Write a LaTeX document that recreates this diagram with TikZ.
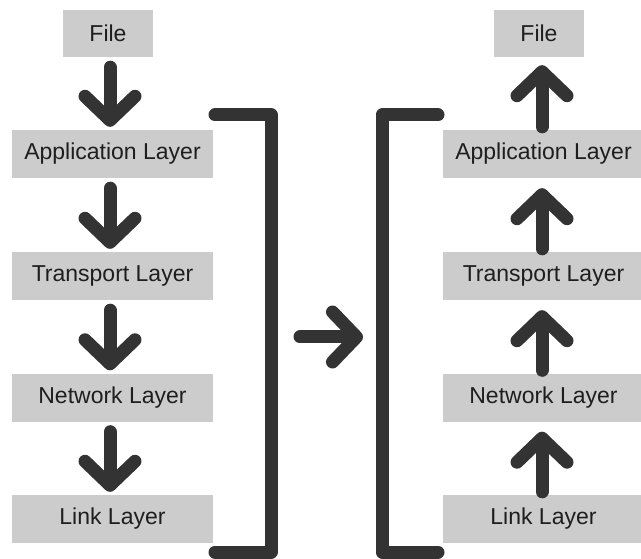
\documentclass[tikz,border=0pt]{standalone}
\usepackage{fontspec}
\setmainfont{Liberation Sans}
\usetikzlibrary{arrows.meta,calc}
\definecolor{boxgray}{RGB}{204,204,204}
\definecolor{ink}{RGB}{51,51,51}
\definecolor{txt}{RGB}{30,30,30}
\begin{document}
\begin{tikzpicture}[x=1pt,y=-1pt,
  layerbox/.style={fill=boxgray, minimum width=201pt, minimum height=48pt, inner sep=0pt, text=txt, font=\fontsize{23}{26}\selectfont},
  filebox/.style={layerbox, minimum width=90pt, minimum height=47pt},
  bigarrow/.style={draw=ink, line width=13pt, line cap=round, line join=round,
    -{Straight Barb[length=24pt,width=50pt,round]}},
  bracket/.style={draw=ink, line width=13pt, line cap=round, line join=round}]
\useasboundingbox (0,0) rectangle (641,559);
% left column
\node[filebox]  (lf) at (108,33.5) {File};
\node[layerbox] (la) at (112.5,154) {Application Layer};
\node[layerbox] (lt) at (112.5,276) {Transport Layer};
\node[layerbox] (ln) at (112.5,397.5) {Network Layer};
\node[layerbox] (ll) at (112.5,519) {Link Layer};
% right column
\node[filebox]  (rf) at (539,33.5) {File};
\node[layerbox] (ra) at (543.5,154) {Application Layer};
\node[layerbox] (rt) at (543.5,276) {Transport Layer};
\node[layerbox] (rn) at (543.5,397.5) {Network Layer};
\node[layerbox] (rl) at (543.5,519) {Link Layer};
% down arrows
\draw[bigarrow] ($(lf.south)+(2,10)$) -- ($(la.north)+(-2.5,-3)$);
\draw[bigarrow] ($(la.south)+(-2.5,10)$) -- ($(lt.north)+(-2.5,-3)$);
\draw[bigarrow] ($(lt.south)+(-2.5,10)$) -- ($(ln.north)+(-2.5,-3)$);
\draw[bigarrow] ($(ln.south)+(-2.5,10)$) -- ($(ll.north)+(-2.5,-3)$);
% up arrows
\draw[bigarrow] ($(ra.north)+(-1.5,-3)$) -- ($(rf.south)+(3,8)$);
\draw[bigarrow] ($(rt.north)+(-1.5,-3)$) -- ($(ra.south)+(-1.5,10)$);
\draw[bigarrow] ($(rn.north)+(-1.5,-3)$) -- ($(rt.south)+(-1.5,10)$);
\draw[bigarrow] ($(rl.north)+(-1.5,-3)$) -- ($(rn.south)+(-1.5,10)$);
% brackets
\coordinate (lb1) at (215,115);
\coordinate (lb2) at (271,115);
\coordinate (lb3) at (271,552);
\coordinate (lb4) at (215,552);
\coordinate (rb1) at (438,115);
\coordinate (rb2) at (382,115);
\coordinate (rb3) at (382,552);
\coordinate (rb4) at (438,552);
\draw[bracket] (lb1) -- (lb2) -- (lb3) -- (lb4);
\draw[bracket] (rb1) -- (rb2) -- (rb3) -- (rb4);
% middle arrow
\coordinate (ms) at (300,337);
\coordinate (me) at (363,337);
\draw[bigarrow] (ms) -- (me);
\end{tikzpicture}
\end{document}
